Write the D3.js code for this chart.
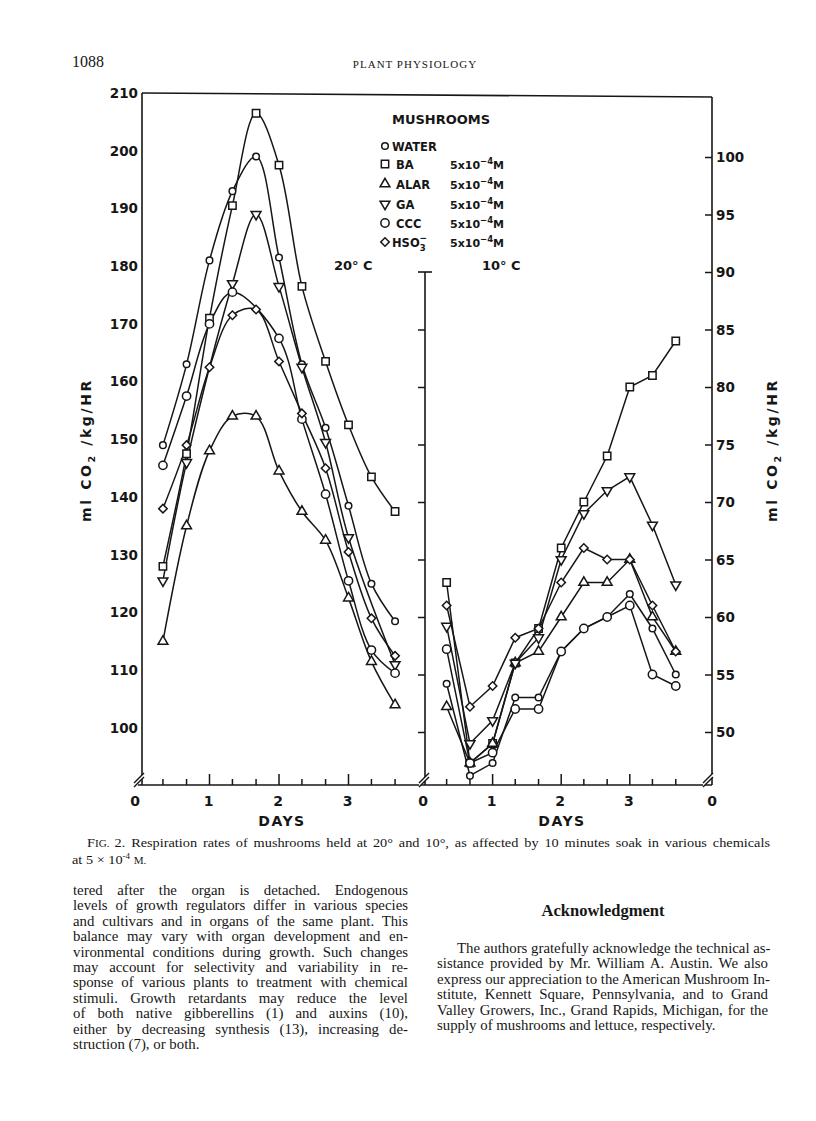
<!DOCTYPE html>
<html><head><meta charset="utf-8">
<script src="https://cdn.jsdelivr.net/npm/d3@7"></script>
<style>body{margin:0;background:#fff}svg{display:block}</style>
</head><body>
<svg id="c" width="816" height="1121"></svg>
<script>
// ---------- data ----------
const dayPos  = [0.33,0.67,1.0,1.33,1.67,2.0,2.33,2.67,3.0,3.33,3.67];
// 20 °C (left axis, ml CO2/kg/HR)
const water20 = [149,163,181,193,199,181.5,163,152,138.5,125,118.5];
const ba20    = [128,147.5,171,190.5,206.5,197.5,176.5,163.5,152.5,143.5,137.5];
const alar20  = [115,135,148,154,154,144.5,137.5,132.5,122.5,111.5,104];
const ga20    = [125.5,146,null,177,189,176.5,162.5,149.5,133,null,111];
const ccc20   = [145.5,157.5,170,175.5,null,167.5,153.5,140.5,125.5,113.5,109.5];
const hso20   = [138,149,162.5,171.5,172.5,163.5,154.5,145,130.5,119,112.5];
// 10 °C (right axis, ml CO2/kg/HR)
const water10 = [54.2,46.2,47.3,53,53,57,59,60,62,59,55];
const ba10    = [63,47.3,49,56,59,66,70,74,80,81,84];
const alar10  = [52.2,47.3,49,56,57,60,63,63,65,60,57];
const ga10    = [59.2,49,51,56,58.2,65,69,71,72.2,68,62.8];
const ccc10   = [57.2,47.3,48.2,52,52,57,59,60,61,55,54];
const hso10   = [61,52.2,54,58.2,59,63,66,65,65,61,57];

const leftTicks  = [100,110,120,130,140,150,160,170,180,190,200,210];
const rightTicks = [50,55,60,65,70,75,80,85,90,95,100];
const midTicks   = [50,55,60,65,70,75,80,85];
const dayTicks   = [0,1,2,3];
const minorDays  = [0.33,0.67,1.33,1.67,2.33,2.67,3.33,3.67];
const seriesKeys = ["WATER","BA","ALAR","GA","CCC","HSO3"];
const legendConc = ["","5x10","5x10","5x10","5x10","5x10"];

// ---------- layout ----------
const svg = d3.select("#c");
const ink = "#161616";
const AX_Y = 785, TOP = 93, TOP_R = 97, LEFT_X = 142, MID_X = 425, RIGHT_X = 712;
const xL = d3.scaleLinear().domain([0,4]).range([140,418]);
const yL = d3.scaleLinear().domain([100,210]).range([728,TOP]);
const xR = d3.scaleLinear().domain([0,4]).range([424,698.4]);
const yR = d3.scaleLinear().domain([50,100]).range([732,157]);
const sans = "'DejaVu Sans', sans-serif";
const serif = "'Liberation Serif', 'Times New Roman', serif";

const symGen = {
  WATER: d3.symbol(d3.symbolCircle, 34),
  CCC:   d3.symbol(d3.symbolCircle, 54),
  BA:    d3.symbol(d3.symbolSquare, 54),
  ALAR:  d3.symbol(d3.symbolTriangle, 42),
  GA:    d3.symbol(d3.symbolTriangle, 42),
  HSO3:  d3.symbol(d3.symbolSquare, 36)
};
const symRot = {WATER:0,CCC:0,BA:0,ALAR:0,GA:180,HSO3:45};
function drawMarker(g, key, x, y){
  g.append("path").attr("d", symGen[key]())
    .attr("transform", `translate(${x},${y}) rotate(${symRot[key]})`)
    .attr("fill","#fff").attr("stroke",ink).attr("stroke-width",1.5);
}

// ---------- header ----------
svg.append("text").attr("x",72).attr("y",67).attr("font-family",serif).attr("font-size",16).attr("fill",ink).text("1088");
svg.append("text").attr("x",415).attr("y",68).attr("text-anchor","middle").attr("font-family",serif).attr("font-size",11).attr("letter-spacing",1).attr("fill",ink).text("PLANT PHYSIOLOGY");

// ---------- frame & axes ----------
const fr = svg.append("g").attr("stroke",ink).attr("stroke-width",1.6).attr("fill","none");
fr.append("line").attr("x1",LEFT_X).attr("x2",RIGHT_X).attr("y1",TOP).attr("y2",TOP_R);
fr.append("line").attr("x1",LEFT_X).attr("x2",LEFT_X).attr("y1",TOP).attr("y2",AX_Y);
fr.append("line").attr("x1",RIGHT_X).attr("x2",RIGHT_X).attr("y1",TOP_R).attr("y2",AX_Y);
fr.append("line").attr("x1",MID_X).attr("x2",MID_X).attr("y1",yR(90)).attr("y2",AX_Y);
fr.append("line").attr("x1",MID_X-7).attr("x2",MID_X+7).attr("y1",yR(90)).attr("y2",yR(90));
fr.append("line").attr("x1",LEFT_X-4).attr("x2",RIGHT_X).attr("y1",AX_Y).attr("y2",AX_Y);

// left y axis labels
const gl = svg.append("g").attr("transform",`translate(${LEFT_X},0)`)
  .call(d3.axisLeft(yL).tickValues(leftTicks).tickSize(0).tickPadding(4).tickFormat(d3.format("d")));
gl.select(".domain").remove();
gl.selectAll("text").attr("font-family",sans).attr("font-weight","bold").attr("font-size",13.5).attr("fill",ink);

// middle axis ticks
const gm = svg.append("g").attr("transform",`translate(${MID_X},0)`)
  .call(d3.axisLeft(yR).tickValues(midTicks).tickSize(7).tickFormat(""));
gm.select(".domain").remove();
gm.selectAll("line").attr("stroke",ink).attr("stroke-width",1.5);

// right axis
const gr = svg.append("g").attr("transform",`translate(${RIGHT_X},0)`)
  .call(d3.axisLeft(yR).tickValues(rightTicks).tickSize(7).tickFormat(""));
gr.select(".domain").remove();
gr.selectAll("line").attr("stroke",ink).attr("stroke-width",1.5);
svg.append("g").selectAll("text").data(rightTicks).join("text")
  .attr("x",RIGHT_X+4).attr("y",d=>yR(d)+5)
  .attr("font-family",sans).attr("font-weight","bold").attr("font-size",13.5).attr("fill",ink)
  .text(d=>d);

// x axes ticks (upward)
function xTicks(sc, off0){
  const g = svg.append("g").attr("stroke",ink).attr("stroke-width",1.5);
  g.selectAll("line.maj").data(dayTicks.filter(d=>d>0)).join("line")
    .attr("x1",d=>sc(d)).attr("x2",d=>sc(d)).attr("y1",AX_Y).attr("y2",AX_Y-11);
  g.selectAll("line.min").data(minorDays).join("line")
    .attr("x1",d=>sc(d)).attr("x2",d=>sc(d)).attr("y1",AX_Y).attr("y2",AX_Y-6);
  svg.append("g").selectAll("text").data(dayTicks).join("text")
    .attr("x",d=>sc(d)-(d===0?off0:1)).attr("y",AX_Y+21).attr("text-anchor","middle")
    .attr("font-family",sans).attr("font-weight","bold").attr("font-size",14).attr("fill",ink)
    .text(d=>d);
}
xTicks(xL,5); xTicks(xR,1);
svg.append("text").attr("x",RIGHT_X).attr("y",AX_Y+21).attr("text-anchor","middle")
  .attr("font-family",sans).attr("font-weight","bold").attr("font-size",14).attr("fill",ink).text("0");

// axis breaks
[LEFT_X-2, MID_X, RIGHT_X-3].forEach(x=>{
  const y = AX_Y-7;
  svg.append("polygon").attr("points",`${x-6},${y+5} ${x+4},${y-5} ${x+4},${y-1} ${x-6},${y+9}`).attr("fill","#fff");
  svg.append("line").attr("x1",x-6).attr("y1",y+5).attr("x2",x+4).attr("y2",y-5).attr("stroke",ink).attr("stroke-width",1.5);
  svg.append("line").attr("x1",x-6).attr("y1",y+9).attr("x2",x+4).attr("y2",y-1).attr("stroke",ink).attr("stroke-width",1.5);
});

// axis titles
["DAYS","DAYS"].forEach((t,i)=>{
  svg.append("text").attr("x",i?562:282).attr("y",826).attr("text-anchor","middle")
    .attr("font-family",sans).attr("font-weight","bold").attr("font-size",14).attr("letter-spacing",1.5).attr("fill",ink).text(t);
});
[[91,450],[777,450]].forEach(([x,y])=>{
  const t = svg.append("text").attr("transform",`translate(${x},${y}) rotate(-90)`).attr("text-anchor","middle")
    .attr("font-family",sans).attr("font-weight","bold").attr("font-size",14).attr("letter-spacing",2.6).attr("fill",ink);
  t.append("tspan").text("ml CO");
  t.append("tspan").attr("dy",4).attr("font-size",9.5).text("2");
  t.append("tspan").attr("dy",-4).text(" /kg/HR");
});

// temperature labels
svg.append("text").attr("x",334).attr("y",270).attr("font-family",sans).attr("font-weight","bold").attr("font-size",13).attr("fill",ink).text("20° C");
svg.append("text").attr("x",482).attr("y",270).attr("font-family",sans).attr("font-weight","bold").attr("font-size",13).attr("fill",ink).text("10° C");

// ---------- series ----------
const warm = {WATER:water20,BA:ba20,ALAR:alar20,GA:ga20,CCC:ccc20,HSO3:hso20};
const cold = {WATER:water10,BA:ba10,ALAR:alar10,GA:ga10,CCC:ccc10,HSO3:hso10};
const lineL = d3.line().x(d=>xL(d[0])).y(d=>yL(d[1])).curve(d3.curveCatmullRom.alpha(0.5));
const lineR = d3.line().x(d=>xR(d[0])).y(d=>yR(d[1])).curve(d3.curveLinear);
const gLines = svg.append("g").attr("fill","none").attr("stroke",ink).attr("stroke-width",1.5);
const gMarks = svg.append("g");
seriesKeys.forEach(k=>{
  const pl = dayPos.map((d,i)=>[d,warm[k][i]]).filter(p=>p[1]!=null);
  const pr = dayPos.map((d,i)=>[d,cold[k][i]]).filter(p=>p[1]!=null);
  gLines.append("path").attr("d",lineL(pl));
  gLines.append("path").attr("d",lineR(pr));
  pl.forEach(p=>drawMarker(gMarks,k,xL(p[0]),yL(p[1])));
  pr.forEach(p=>drawMarker(gMarks,k,xR(p[0]),yR(p[1])));
});

// ---------- legend ----------
const lg = svg.append("g");
lg.append("text").attr("x",392).attr("y",124).attr("font-family",sans).attr("font-weight","bold").attr("font-size",13).attr("fill",ink).text("MUSHROOMS");
const legY = [146,164,184,204,223,242];
seriesKeys.forEach((k,i)=>{
  drawMarker(lg,k,385,legY[i]);
  const t = lg.append("text").attr("x",k==="WATER"||k==="HSO3"?392:396).attr("y",legY[i]+4.5)
    .attr("font-family",sans).attr("font-weight","bold").attr("font-size",11.5).attr("fill",ink);
  if(k==="HSO3"){
    t.append("tspan").text("HSO");
    t.append("tspan").attr("dy",4).attr("font-size",8.5).text("3");
    t.append("tspan").attr("dx",-6).attr("dy",-10).attr("font-size",9).text("−");
  } else t.text(k);
  if(legendConc[i]){
    const c = lg.append("text").attr("x",450).attr("y",legY[i]+4.5)
      .attr("font-family",sans).attr("font-weight","bold").attr("font-size",11).attr("fill",ink);
    c.append("tspan").text(legendConc[i]);
    c.append("tspan").attr("dy",-5).attr("font-size",8.5).text("−4");
    c.append("tspan").attr("dy",5).text("M");
  }
});

// ---------- caption & body text ----------
function justify(sel, width){
  const len = sel.node().getComputedTextLength();
  const n = (sel.text().match(/ /g)||[]).length;
  if(n>0) sel.attr("word-spacing",Math.max(0,(width-len)/n));
}
const SX = 1.06;
function para(x, y, size){
  return svg.append("text").attr("transform",`translate(${x},${y}) scale(${SX},1)`)
    .attr("font-family",serif).attr("font-size",size).attr("fill",ink);
}
const cap1 = para(87, 847, 13.5);
cap1.append("tspan").text("F");
cap1.append("tspan").attr("font-size",10.5).text("IG. ");
cap1.append("tspan").text("2. Respiration rates of mushrooms held at 20° and 10°, as affected by 10 minutes soak in various chemicals");
justify(cap1, (770-87)/SX);
const cap2 = para(72, 864, 13.5);
cap2.append("tspan").text("at 5 × 10");
cap2.append("tspan").attr("dy",-5).attr("font-size",8.5).text("-4");
cap2.append("tspan").attr("dy",5).text(" ");
cap2.append("tspan").attr("font-size",10.5).text("M.");

const leftLines = [
 "tered after the organ is detached. Endogenous",
 "levels of growth regulators differ in various species",
 "and cultivars and in organs of the same plant. This",
 "balance may vary with organ development and en-",
 "vironmental conditions during growth. Such changes",
 "may account for selectivity and variability in re-",
 "sponse of various plants to treatment with chemical",
 "stimuli. Growth retardants may reduce the level",
 "of both native gibberellins (1) and auxins (10),",
 "either by decreasing synthesis (13), increasing de-",
 "struction (7), or both."];
const rightLines = [
 "The authors gratefully acknowledge the technical as-",
 "sistance provided by Mr. William A. Austin. We also",
 "express our appreciation to the American Mushroom In-",
 "stitute, Kennett Square, Pennsylvania, and to Grand",
 "Valley Growers, Inc., Grand Rapids, Michigan, for the",
 "supply of mushrooms and lettuce, respectively."];
const LH = 15.4;
leftLines.forEach((s,i)=>{
  const t = para(73, 895+i*LH, 14).text(s);
  if(i<leftLines.length-1) justify(t, (408-73)/SX);
});
svg.append("text").attr("x",603).attr("y",916).attr("text-anchor","middle").attr("font-family",serif).attr("font-weight","bold").attr("font-size",16.5).attr("fill",ink).text("Acknowledgment");
rightLines.forEach((s,i)=>{
  const x0 = i===0?457:437;
  const t = para(x0, 953+i*LH, 14).text(s);
  if(i<rightLines.length-1) justify(t, (768-x0)/SX);
});
</script>
</body></html>
